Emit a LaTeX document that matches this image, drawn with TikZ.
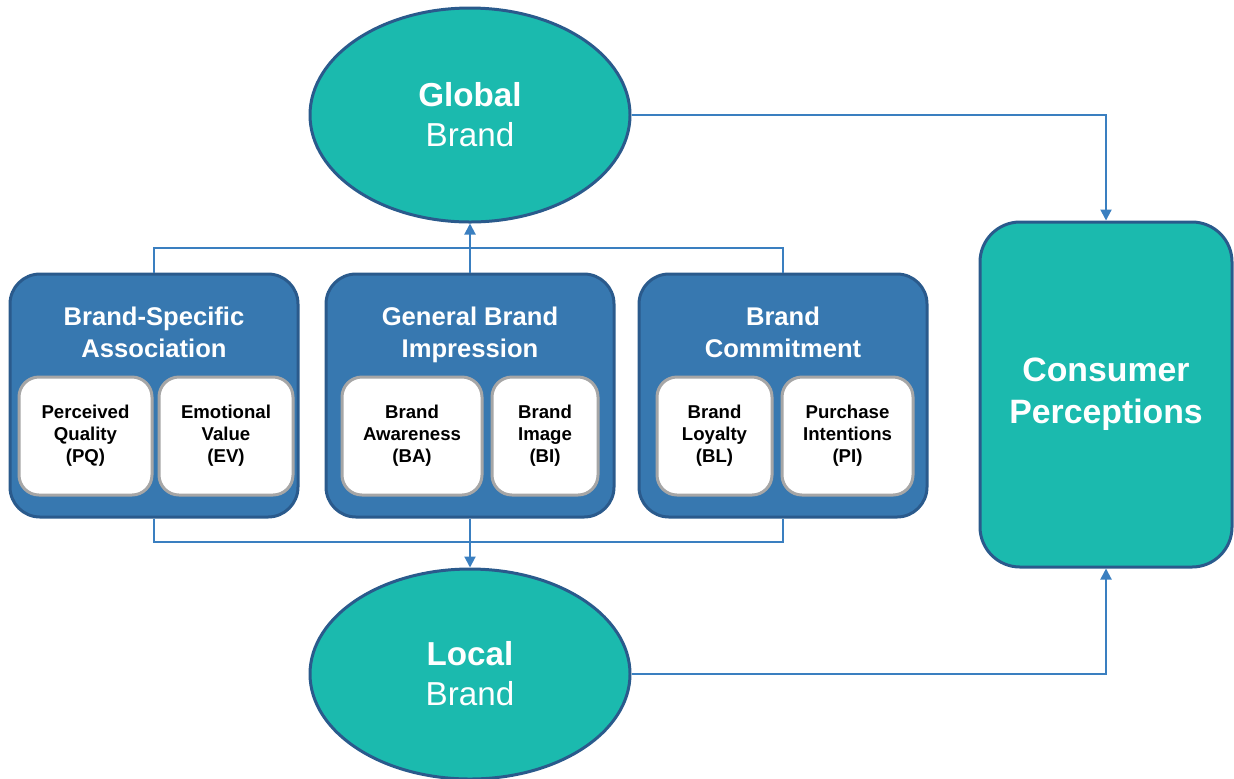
\documentclass[tikz,border=0pt]{standalone}
\usepackage{fontspec}
\setmainfont{Liberation Sans}
\usepackage{tikz}
\usetikzlibrary{arrows.meta,shapes.geometric,positioning}

\definecolor{teal1}{HTML}{1BBAAE}
\definecolor{navy1}{HTML}{2A5A8C}
\definecolor{blue1}{HTML}{3778B0}
\definecolor{line1}{HTML}{3A7FC0}
\definecolor{gray1}{HTML}{A6A6A6}

\tikzset{
	brand/.style={ellipse,draw=navy1,fill=teal1,line width=1.5pt,
		minimum width=160pt,minimum height=107pt,text=white,align=center,
		font=\fontsize{16.6}{20}\selectfont},
	group/.style={rectangle,rounded corners=15pt,draw=navy1,fill=blue1,
		line width=1.5pt,minimum width=144pt,minimum height=121.5pt},
	grouptitle/.style={text=white,align=center,
		font=\fontsize{12.8}{16}\selectfont\bfseries},
	item/.style={rectangle,rounded corners=10pt,draw=gray1,fill=white,
		line width=1.5pt,minimum height=59pt,align=center,
		font=\fontsize{9.3}{11}\selectfont\bfseries},
	link/.style={draw=line1,line width=1pt},
	arr/.style={link,-{Triangle[width=5.5pt,length=5.5pt]}}
}

\begin{document}
\begin{tikzpicture}[x=0.5pt,y=-0.5pt]

	\useasboundingbox (0,0) rectangle (1234,778);

	% brands
	\node[brand] (global) at (470,115) {\textbf{Global}\\Brand};
	\node[brand,minimum height=105pt] (local) at (470,674) {\textbf{Local}\\Brand};

	% groups
	\node[group] (bsa) at (154,395.5) {};
	\node[group] (gbi) at (470,395.5) {};
	\node[group] (bc) at (783,395.5) {};

	\node[grouptitle] (bsat) at (154,332) {Brand-Specific\\Association};
	\node[grouptitle] (gbit) at (470,335) {General Brand\\Impression};
	\node[grouptitle] (bct) at (783,332) {Brand\\Commitment};

	\node[item,minimum width=66.5pt] (pq) at (85.5,436) {Perceived\\Quality\\(PQ)};
	\node[item,minimum width=67pt] (ev) at (226,436) {Emotional\\Value\\(EV)};
	\node[item,minimum width=70pt] (ba) at (412,436) {Brand\\Awareness\\(BA)};
	\node[item,minimum width=53pt] (bi) at (545,436) {Brand\\Image\\(BI)};
	\node[item,minimum width=57.5pt] (bl) at (714.5,436) {Brand\\Loyalty\\(BL)};
	\node[item,minimum width=65.5pt] (pi) at (847.5,436) {Purchase\\Intentions\\(PI)};

	% consumer
	\node[rectangle,rounded corners=20pt,draw=navy1,fill=teal1,line width=1.5pt,
		minimum width=126pt,minimum height=172.5pt,text=white,align=center,
		font=\fontsize{16.9}{21}\selectfont\bfseries] (cp) at (1106,394.5) {Consumer\\Perceptions};

	% buses
	\coordinate (topbus) at (470,248);
	\coordinate (botbus) at (470,542);

	\draw[link] (bsa.north) -- (bsa.north |- topbus) -- (bc.north |- topbus) -- (bc.north);
	\draw[arr] (gbi.north) -- (global.south);
	\draw[link] (bsa.south) -- (bsa.south |- botbus) -- (bc.south |- botbus) -- (bc.south);
	\draw[arr] (gbi.south) -- (local.north);

	\draw[arr] (global.east) -| (cp.north);
	\draw[arr] (local.east) -| (cp.south);

\end{tikzpicture}
\end{document}
